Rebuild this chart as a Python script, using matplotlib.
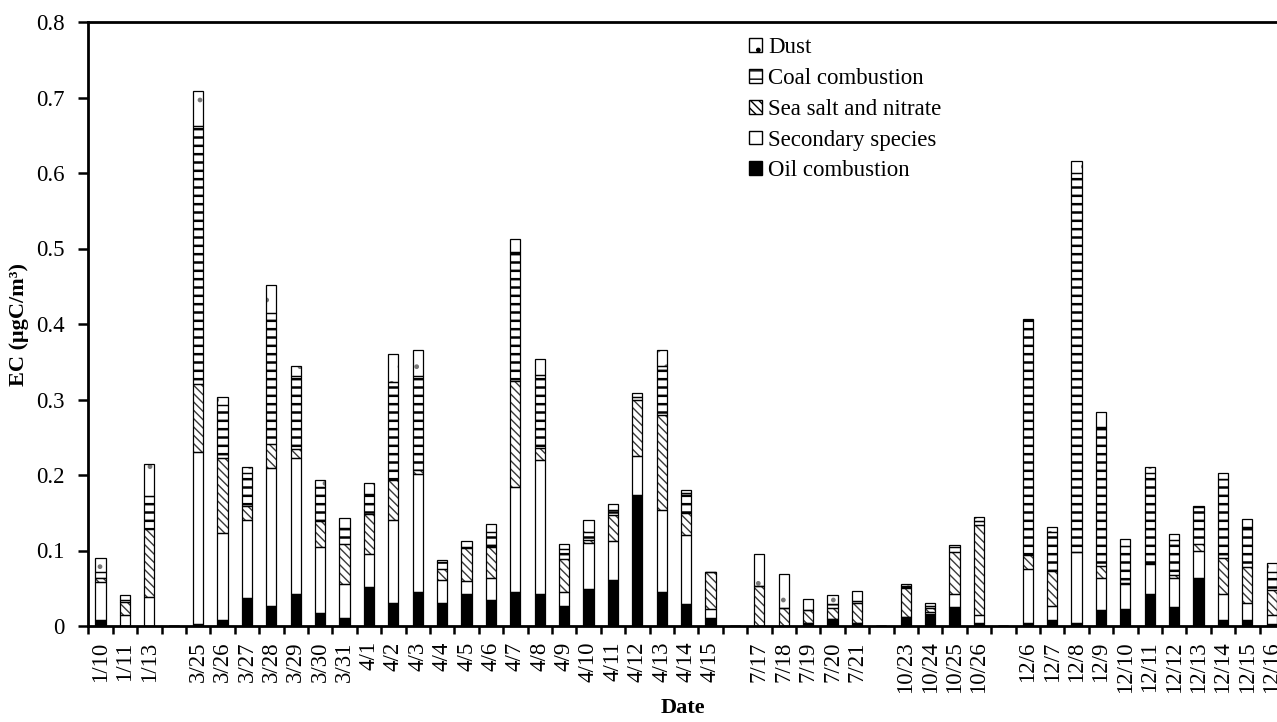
import numpy as np
import matplotlib
matplotlib.use("Agg")
import matplotlib.pyplot as plt
from matplotlib.patches import Patch

plt.rcParams['font.family'] = ['Liberation Serif', 'DejaVu Serif']
plt.rcParams['font.size'] = 16.5

dates = ["1/10", "1/11", "1/13", "",
         "3/25", "3/26", "3/27", "3/28", "3/29", "3/30", "3/31",
         "4/1", "4/2", "4/3", "4/4", "4/5", "4/6", "4/7", "4/8", "4/9", "4/10",
         "4/11", "4/12", "4/13", "4/14", "4/15", "",
         "7/17", "7/18", "7/19", "7/20", "7/21", "",
         "10/23", "10/24", "10/25", "10/26", "",
         "12/6", "12/7", "12/8", "12/9", "12/10", "12/11", "12/12", "12/13",
         "12/14", "12/15", "12/16"]

oil = [0.008, 0.0, 0.0, 0.0,
       0.003, 0.008, 0.037, 0.026, 0.042, 0.017, 0.010,
       0.051, 0.031, 0.045, 0.031, 0.043, 0.034, 0.045, 0.043, 0.026, 0.049,
       0.061, 0.173, 0.045, 0.029, 0.011, 0.0,
       0.0, 0.0, 0.0035, 0.009, 0.0035, 0.0,
       0.0115, 0.016, 0.025, 0.0045, 0.0,
       0.0035, 0.008, 0.0045, 0.021, 0.0225, 0.042, 0.025, 0.063,
       0.008, 0.008, 0.002]

secondary = [0.050, 0.015, 0.039, 0.0,
             0.227, 0.115, 0.104, 0.183, 0.181, 0.088, 0.045,
             0.044, 0.110, 0.156, 0.030, 0.017, 0.029, 0.139, 0.177, 0.019, 0.061,
             0.052, 0.052, 0.109, 0.092, 0.012, 0.0,
             0.0, 0.0, 0.0, 0.0, 0.0, 0.0,
             0.0, 0.002, 0.017, 0.010, 0.0,
             0.072, 0.019, 0.094, 0.042, 0.0325, 0.040, 0.039, 0.036,
             0.035, 0.022, 0.013]

sea_salt = [0.006, 0.017, 0.089, 0.0,
            0.091, 0.100, 0.018, 0.032, 0.012, 0.034, 0.054,
            0.054, 0.053, 0.006, 0.014, 0.043, 0.041, 0.141, 0.016, 0.044, 0.004,
            0.034, 0.074, 0.125, 0.029, 0.049, 0.0,
            0.053, 0.024, 0.0175, 0.0155, 0.027, 0.0,
            0.039, 0.0055, 0.056, 0.119, 0.0,
            0.0185, 0.046, 0.0, 0.016, 0.002, 0.002, 0.004, 0.010,
            0.047, 0.0485, 0.033]

coal = [0.007, 0.002, 0.044, 0.0,
        0.341, 0.070, 0.044, 0.174, 0.096, 0.045, 0.021,
        0.026, 0.129, 0.124, 0.010, 0.001, 0.020, 0.170, 0.097, 0.0125, 0.011,
        0.007, 0.004, 0.065, 0.0255, 0.0, 0.0,
        0.0, 0.0, 0.0, 0.005, 0.002, 0.0,
        0.003, 0.0035, 0.007, 0.006, 0.0,
        0.311, 0.052, 0.502, 0.184, 0.049, 0.118, 0.046, 0.049,
        0.105, 0.053, 0.024]

dust = [0.019, 0.007, 0.042, 0.0,
        0.046, 0.010, 0.008, 0.036, 0.014, 0.010, 0.013,
        0.015, 0.037, 0.035, 0.003, 0.008, 0.011, 0.018, 0.021, 0.0075, 0.016,
        0.007, 0.005, 0.021, 0.005, 0.0, 0.0,
        0.042, 0.0455, 0.0145, 0.012, 0.0145, 0.0,
        0.002, 0.003, 0.002, 0.005, 0.0,
        0.002, 0.0065, 0.0155, 0.020, 0.009, 0.008, 0.008, 0.001,
        0.0075, 0.010, 0.011]

series_names = ["Oil combustion", "Secondary species", "Sea salt and nitrate",
                "Coal combustion", "Dust"]
series_values = [oil, secondary, sea_salt, coal, dust]
SEA_HATCH = "\\\\\\\\"
styles = [
    dict(fc="black", hc="black", hatch=None, hlw=1.0),
    dict(fc="white", hc="black", hatch=None, hlw=1.0),
    dict(fc="white", hc="#3a3a3a", hatch=SEA_HATCH, hlw=1.0),
    dict(fc="white", hc="black", hatch="--", hlw=1.8),
    dict(fc="white", hc="#777777", hatch=".", hlw=1.0),
]

W, H = 1277, 722
fig = plt.figure(figsize=(W / 100, H / 100), dpi=100)
left, right, top, bottom_px = 88.3, 88.3 + 49 * 24.4, 22, 626
ax = fig.add_axes([left / W, 1 - bottom_px / H, (right - left) / W, (bottom_px - top) / H])

x = np.arange(len(dates))
width = 0.42
base = np.zeros(len(dates))
for vals, st in zip(series_values, styles):
    vals = np.asarray(vals, dtype=float)
    with plt.rc_context({"hatch.linewidth": st["hlw"]}):
        bars = ax.bar(x, vals, width, bottom=base, color=st["fc"],
                      edgecolor=st["hc"], hatch=st["hatch"], linewidth=0, zorder=2)
        for p in bars:
            if hasattr(p, "set_hatch_linewidth"):
                p.set_hatch_linewidth(st["hlw"])
    ax.bar(x, vals, width, bottom=base, fill=False, edgecolor="black",
           linewidth=0.9, zorder=3)
    base = base + vals

ax.set_xlim(-0.5, len(dates) - 0.5)
ax.set_ylim(0, 0.8)
ax.set_yticks(np.arange(0, 0.81, 0.1))
ax.set_yticklabels(["0", "0.1", "0.2", "0.3", "0.4", "0.5", "0.6", "0.7", "0.8"])
ax.set_xticks(np.arange(-0.5, len(dates), 1.0))
ax.set_xticklabels([])
ax.set_xticks(x, minor=True)
ax.set_xticklabels(dates, minor=True, rotation=90)
ax.tick_params(axis="x", which="major", direction="out", length=6, width=1.8)
ax.tick_params(axis="x", which="minor", length=0, pad=11, labelsize=16.5)
ax.tick_params(axis="y", direction="out", length=7, width=1.8, pad=10, labelsize=16.5)

for s in ["left", "bottom", "top"]:
    ax.spines[s].set_linewidth(2.0)
ax.spines["right"].set_visible(False)

ax.set_ylabel("EC (μgC/m³)", fontweight="bold", fontsize=16)
ax.yaxis.set_label_coords((29 - left) / (right - left), 0.5)
fig.text((88.3 + 1277) / 2 / W, 1 - 708 / H,
         "Date", fontweight="bold", fontsize=16, ha="center", va="center")

handles = []
for name, st in zip(series_names, styles):
    ec = st["hc"] if st["hatch"] in (SEA_HATCH, ".") else "black"
    handles.append(Patch(facecolor=st["fc"], edgecolor=ec,
                         hatch=st["hatch"], linewidth=1.0, label=name))
leg_order = [4, 3, 2, 1, 0]
with plt.rc_context({"hatch.linewidth": 1.0}):
    leg = fig.legend([handles[i] for i in leg_order], [series_names[i] for i in leg_order],
                     loc="upper left", bbox_to_anchor=(749 / W, 1 - 37 / H),
                     frameon=False, fontsize=16.5, handlelength=0.55, handleheight=0.55,
                     handletextpad=0.3, labelspacing=0.43, borderpad=0, borderaxespad=0)
for p in leg.get_patches():
    p.set_edgecolor("black")

fig.savefig("out.png", dpi=100)
